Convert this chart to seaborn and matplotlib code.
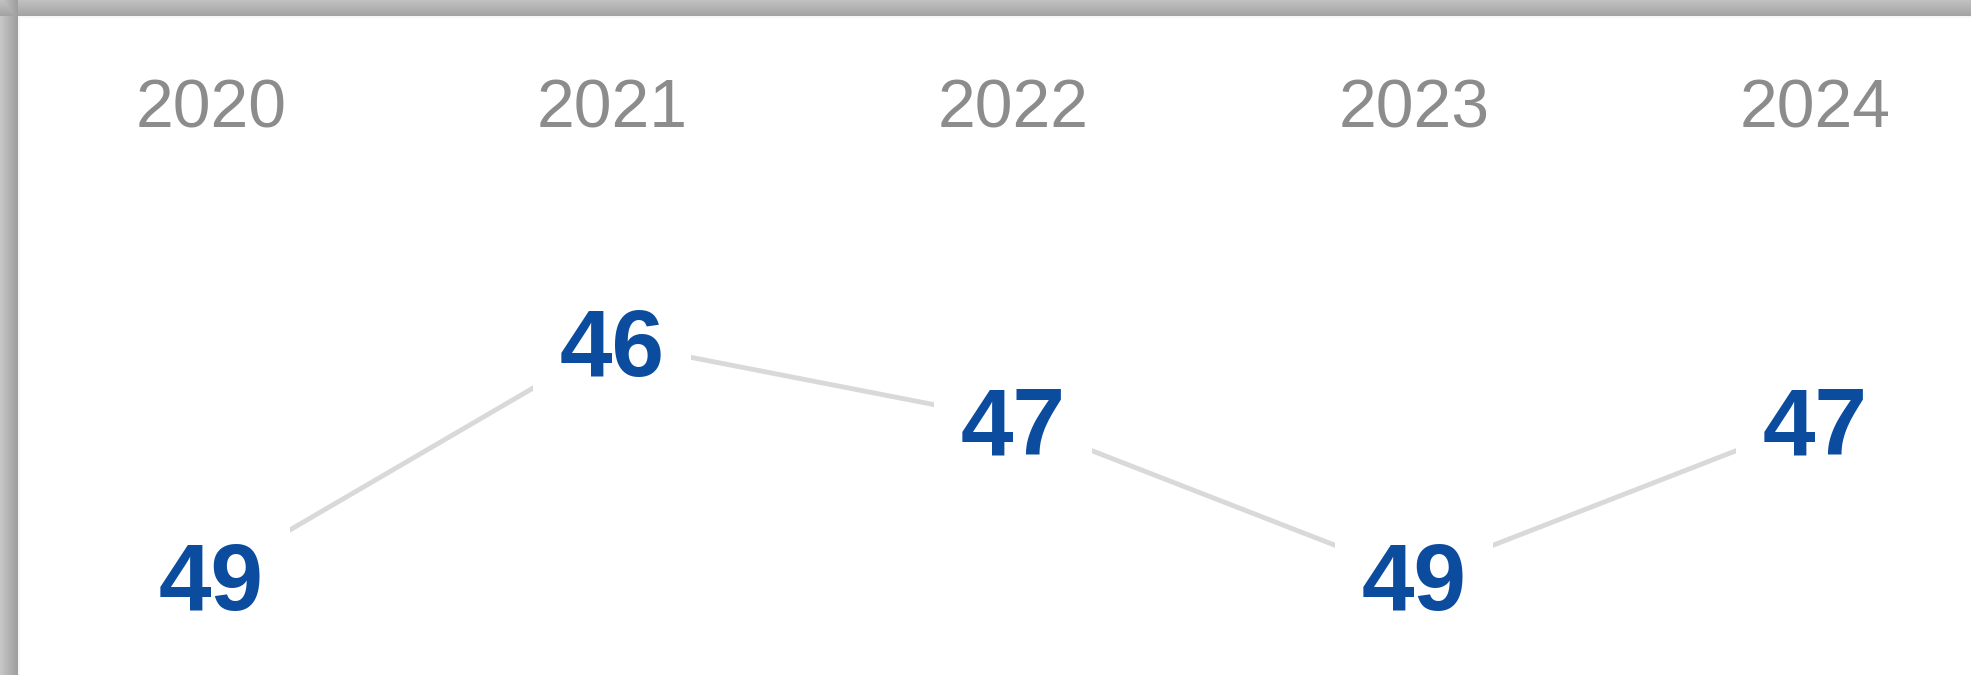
import numpy as np
import pandas as pd
import matplotlib
matplotlib.use("Agg")
import matplotlib.pyplot as plt
import seaborn as sns

years = ["2020", "2021", "2022", "2023", "2024"]
values = [49, 46, 47, 49, 47]

sns.set_theme(style="white")
plt.rcParams["font.family"] = ["Liberation Sans", "DejaVu Sans"]

W, H, DPI = 1971, 675, 100
fig = plt.figure(figsize=(W / DPI, H / DPI), dpi=DPI)
fig.patch.set_facecolor("white")

# shadow frame along top and left edges
img = np.ones((H, W, 3))
top_h, left_w = 16, 18
tg = np.linspace(0.76, 0.64, top_h)
lg = np.linspace(0.78, 0.62, left_w)
img[:top_h, :, :] = tg[:, None, None]
img[:, :left_w, :] = np.minimum(img[:, :left_w, :], lg[None, :, None])
img[top_h:top_h + 2, left_w:, :] = 0.97
img[top_h:, left_w:left_w + 2, :] = 0.97
fig.figimage(img, xo=0, yo=0, origin="upper", zorder=0)

ax = fig.add_axes([0, 0, 1, 1])
ax.set_facecolor("none")
ax.set_zorder(1)

df = pd.DataFrame({"idx": np.arange(len(years)), "value": values})
sns.lineplot(data=df, x="idx", y="value", ax=ax, color="#d9d9d9",
             linewidth=3.5, zorder=1)

# axis scaling: x center 211 px + 401 px per step; y 46 -> 342 px, 78 px per unit
x0, dx = 211, 401
ax.set_xlim(-x0 / dx, (W - x0) / dx)
y46, dy = 342, 78
ax.set_ylim(46 + (H - y46) / dy, 46 - y46 / dy)

for i, v in enumerate(values):
    ax.annotate(str(v), (i, v), xytext=(0, -24.5), textcoords="offset points",
                ha="center", va="baseline", fontsize=68, fontweight="bold",
                color="#0b4c9e", zorder=3,
                bbox=dict(boxstyle="square,pad=0.28", fc="white", ec="none"))

year_y = 46 - (y46 - 127) / dy
for i, yr in enumerate(years):
    ax.text(i, year_y, yr, ha="center", va="baseline", fontsize=49,
            color="#8c8c8c", zorder=3)

ax.set_axis_off()
fig.savefig("out.png", dpi=DPI)
